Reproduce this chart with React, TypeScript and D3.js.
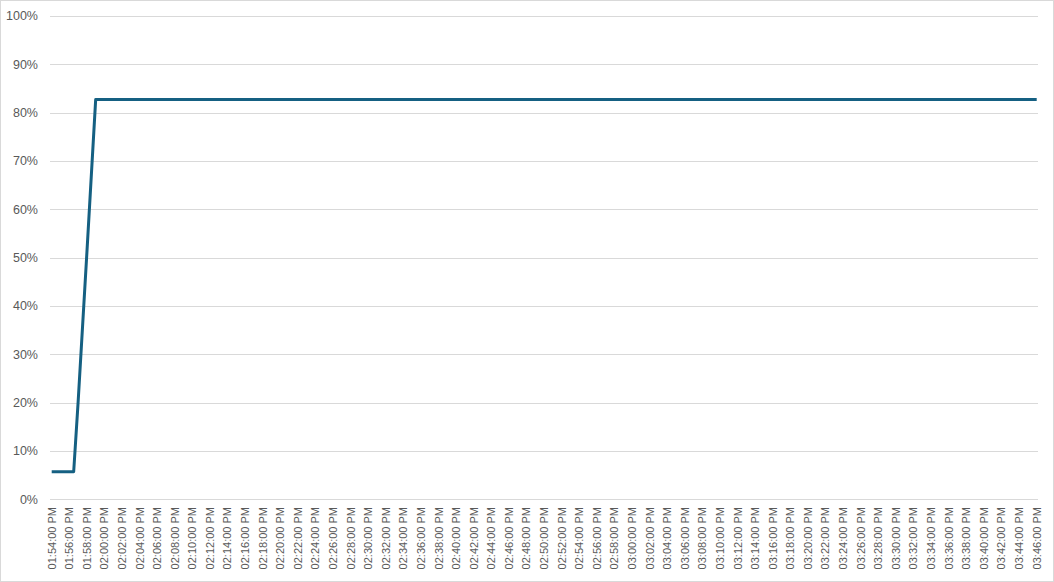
import * as d3 from "d3";
import { useLayoutEffect, useRef } from "react";

const sampleTimes = [
  "13:54:00", "13:55:00", "13:56:00", "13:56:30", "13:57:00", "13:58:00",
  "13:59:00", "14:00:00", "14:20:00", "14:40:00", "15:00:00", "15:20:00",
  "15:40:00", "15:46:00",
];
const sampleValues = [
  0.057, 0.057, 0.057, 0.057, 0.2, 0.51,
  0.827, 0.827, 0.827, 0.827, 0.827, 0.827,
  0.827, 0.827,
];
const yTicks = [0, 0.1, 0.2, 0.3, 0.4, 0.5, 0.6, 0.7, 0.8, 0.9, 1];
const axisStart = "13:54:00";
const axisEnd = "15:46:00";

const width = 1054;
const height = 582;
const labelFont = "'Liberation Sans Narrow', 'Arial Narrow', 'Liberation Sans', Arial, sans-serif";

type Point = { t: Date; v: number };

export default function App() {
  const ref = useRef<SVGSVGElement>(null);
  const parse = d3.timeParse("%Y-%m-%d %H:%M:%S");
  const toDate = (s: string) => parse("2024-01-01 " + s) as Date;

  useLayoutEffect(() => {
    const svg = d3.select(ref.current);
    svg.selectAll("*").remove();

    const x = d3
      .scaleTime()
      .domain([toDate(axisStart), toDate(axisEnd)])
      .range([51.7, 1036.7]);
    const y = d3.scaleLinear().domain([0, 1]).range([499.3, 16]);

    svg
      .append("rect")
      .attr("x", 0.5)
      .attr("y", 0.5)
      .attr("width", width - 1)
      .attr("height", height - 1)
      .attr("fill", "#fff")
      .attr("stroke", "#d9d9d9");

    // gridlines
    svg
      .append("g")
      .selectAll("line")
      .data(yTicks)
      .enter()
      .append("line")
      .attr("x1", 50)
      .attr("x2", 1038)
      .attr("y1", (d) => Math.round(y(d)) + 0.5)
      .attr("y2", (d) => Math.round(y(d)) + 0.5)
      .attr("stroke", "#d9d9d9")
      .attr("stroke-width", 1);

    svg
      .append("g")
      .selectAll("text")
      .data(yTicks)
      .enter()
      .append("text")
      .attr("x", 38)
      .attr("y", (d) => y(d))
      .attr("dy", "0.35em")
      .attr("text-anchor", "end")
      .attr("fill", "#595959")
      .style("font-family", labelFont)
      .style("font-size", "12.5px")
      .text((d) => d3.format(".0%")(d));

    const xTicks = x.ticks(d3.timeMinute.every(2) as d3.TimeInterval);
    const fmt = d3.timeFormat("%I:%M:%S %p");
    svg
      .append("g")
      .selectAll("text")
      .data(xTicks)
      .enter()
      .append("text")
      .attr("transform", (d) => `translate(${x(d)},507) rotate(-90)`)
      .attr("dy", "0.35em")
      .attr("text-anchor", "end")
      .attr("fill", "#595959")
      .style("font-family", labelFont)
      .style("font-size", "11px")
      .text((d) => fmt(d));

    const points: Point[] = sampleTimes.map((s, i) => ({
      t: toDate(s),
      v: sampleValues[i],
    }));
    const line = d3
      .line<Point>()
      .x((d) => x(d.t))
      .y((d) => y(d.v));

    svg
      .append("path")
      .datum(points)
      .attr("d", line)
      .attr("fill", "none")
      .attr("stroke", "#156082")
      .attr("stroke-width", 3)
      .attr("stroke-linejoin", "round");
  }, []);

  return (
    <svg
      ref={ref}
      width={width}
      height={height}
      style={{ position: "fixed", left: 0, top: 0, display: "block" }}
    />
  );
}
